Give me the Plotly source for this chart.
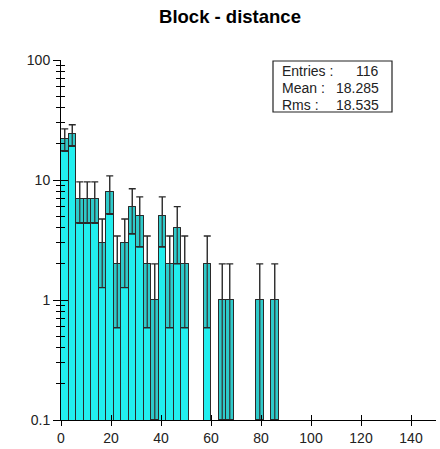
import numpy as np
import plotly.graph_objects as go

# Histogram of block distances: 50 bins of width 3 over [0, 150)
bin_width = 3
bin_start = 0
counts = [22, 24, 7, 7, 7, 3, 8, 2, 3, 6,
          5, 2, 1, 5, 2, 4, 2, 0, 0, 2,
          0, 1, 1, 0, 0, 0, 1, 0, 1, 0] + [0] * 20

stat_labels = ["Entries :", "Mean :", "Rms :"]
stat_values = ["116", "18.285", "18.535"]

x_ticks = [0, 20, 40, 60, 80, 100, 120, 140]
y_ticks = [0.1, 1, 10, 100]
y_ticktext = ["0.1", "1", "10", "100"]

counts = np.array(counts, dtype=float)
centers = bin_start + bin_width * (np.arange(len(counts)) + 0.5)
filled = counts > 0
n = counts[filled]
xc = centers[filled]
err = np.sqrt(n)
low = np.clip(n - err, 0.1, None)

W, H = 440, 449
L, R, T, B = 61, 4, 60, 29

fig = go.Figure()

# main bars with sqrt(N) error bars
fig.add_trace(go.Bar(
    x=xc, y=n, width=bin_width,
    marker=dict(color="#22eeee", line=dict(color="#2a2a2a", width=1)),
    error_y=dict(type="data", array=err, symmetric=True,
                 color="#2a2a2a", thickness=1.4, width=3.5),
    hoverinfo="x+y", showlegend=False,
))
# shaded error band inside each bar
fig.add_trace(go.Bar(
    x=xc, y=n - low, base=low, width=bin_width,
    marker=dict(color="rgba(70,130,130,0.32)", line=dict(color="#2a2a2a", width=1)),
    hoverinfo="skip", showlegend=False,
))

axis_font = dict(family="Arial, Liberation Sans, sans-serif", size=14, color="#222")
minor_vals = [m * d for d in (0.1, 1, 10) for m in range(2, 10)]

fig.update_layout(
    width=W, height=H,
    margin=dict(l=L, r=R, t=T, b=B),
    paper_bgcolor="white", plot_bgcolor="white",
    barmode="overlay", bargap=0,
    title=dict(text="<b>Block - distance</b>", x=230 / W, xanchor="center",
               y=1 - 17 / H, yanchor="middle", yref="container",
               font=dict(family="Arial, Liberation Sans, sans-serif", size=18.5, color="black")),
    xaxis=dict(range=[0, 150], tickvals=x_ticks, ticks="outside", ticklen=5,
               tickcolor="black", showline=True, linecolor="black", linewidth=1,
               showgrid=False, zeroline=False, tickfont=axis_font),
    xaxis2=dict(range=[0, 150], overlaying="x", tickvals=x_ticks, ticks="inside",
                ticklen=5, tickcolor="black", showticklabels=False, showgrid=False,
                zeroline=False, showline=False),
    yaxis=dict(type="log", range=[-1, 2], tickvals=y_ticks, ticktext=y_ticktext,
               ticks="outside", ticklen=7, tickcolor="black", showline=True,
               linecolor="black", linewidth=1, showgrid=False, zeroline=False,
               tickfont=axis_font,
               minor=dict(tickvals=minor_vals, ticks="outside", ticklen=4, tickcolor="black")),
    yaxis2=dict(type="log", range=[-1, 2], overlaying="y", tickvals=y_ticks,
                ticks="inside", ticklen=7, tickcolor="black", showticklabels=False,
                showgrid=False, zeroline=False, showline=False,
                minor=dict(tickvals=minor_vals, ticks="inside", ticklen=4, tickcolor="black")),
)

# empty trace so the overlay axes are drawn
fig.add_trace(go.Scatter(x=[None], y=[None], xaxis="x2", yaxis="y2",
                         showlegend=False, hoverinfo="skip"))


def px_x(p):
    return (p - L) / (W - L - R)


def px_y(p):
    return (H - B - p) / (H - T - B)


# statistics box
fig.add_shape(type="rect", xref="paper", yref="paper",
              x0=px_x(273), x1=px_x(392), y0=px_y(112), y1=px_y(61),
              line=dict(color="#222", width=1.2), fillcolor="white", layer="above")
stat_font = dict(family="Arial, Liberation Sans, sans-serif", size=14, color="#222")
for i, (lab, val) in enumerate(zip(stat_labels, stat_values)):
    yc = px_y(71 + 17 * i)
    fig.add_annotation(x=px_x(280), y=yc, xref="paper", yref="paper", text=lab,
                       showarrow=False, xanchor="left", yanchor="middle", font=stat_font)
    fig.add_annotation(x=px_x(381), y=yc, xref="paper", yref="paper", text=val,
                       showarrow=False, xanchor="right", yanchor="middle", font=stat_font)

fig.write_html("out.html")
